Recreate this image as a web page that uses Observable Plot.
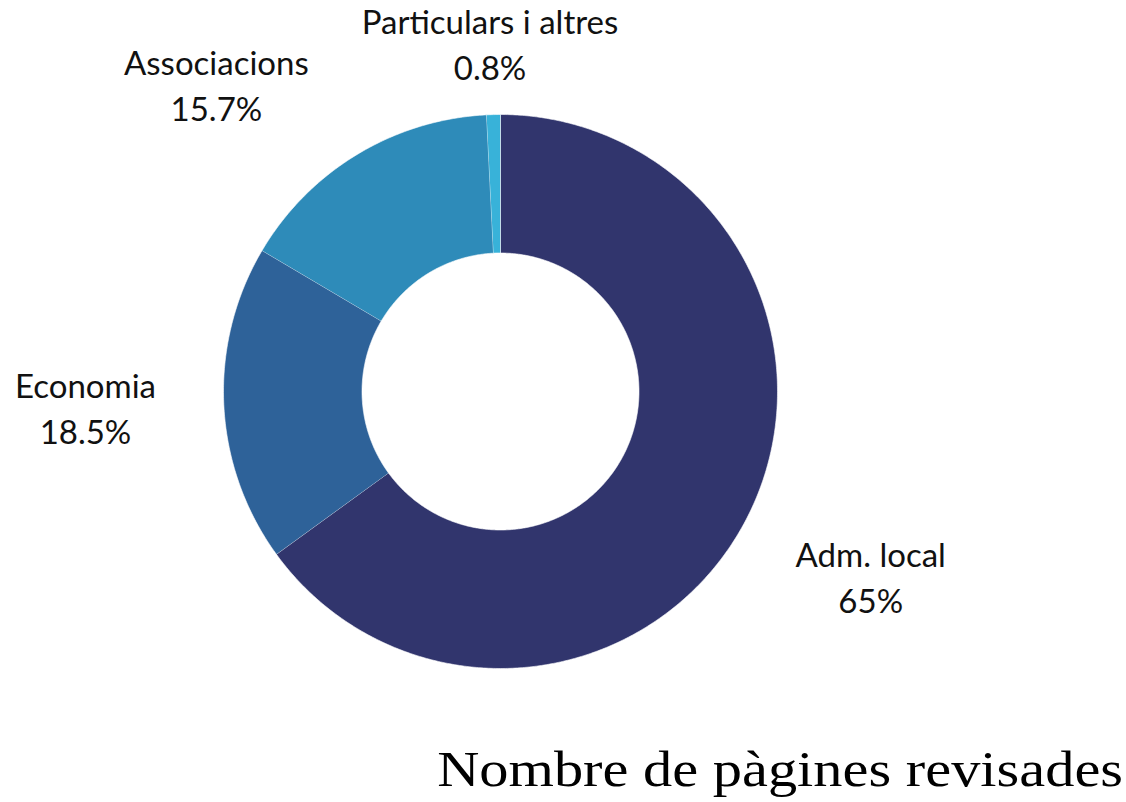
<!DOCTYPE html>
<html>
<head>
<meta charset="utf-8">
<script src="https://cdn.jsdelivr.net/npm/d3@7"></script>
<script src="https://cdn.jsdelivr.net/npm/@observablehq/plot@0.6"></script>
<style>
  html, body { margin: 0; padding: 0; background: #fff; }
  #chart svg { display: block; }
  #title { width: 1126px; text-align: right; line-height: 48px; box-sizing: border-box; padding-right: 3px; }
  #title span { display: inline-block; font-family: "Liberation Serif", serif; font-size: 51px; color: #000; transform: scaleX(1.145); transform-origin: right center; }
</style>
</head>
<body>
<div id="chart"></div>
<div id="title"><span>Nombre de pàgines revisades</span></div>
<script>
const categories = ["Adm. local", "Economia", "Associacions", "Particulars i altres"];
const shares = [65, 18.5, 15.7, 0.8];
const colors = ["#31356d", "#2e6299", "#2e8bb9", "#38b2d9"];

const W = 1126, H = 745, CX = 500, CY = 391, R = 277;
const innerRatio = 0.5;
const labelRadius = 1.5;

// slice angles (clockwise from 12 o'clock)
const pie = d3.pie().sort(null).value(d => d.v)(categories.map((c, i) => ({c, v: shares[i]})));
const pts = [];
for (const s of pie) {
  const n = Math.max(4, Math.ceil((s.endAngle - s.startAngle) / (Math.PI / 360)));
  const outer = d3.range(n + 1).map(k => s.startAngle + (s.endAngle - s.startAngle) * k / n);
  for (const a of outer) pts.push({cat: s.data.c, x: Math.sin(a), y: Math.cos(a)});
  for (const a of outer.slice().reverse()) pts.push({cat: s.data.c, x: innerRatio * Math.sin(a), y: innerRatio * Math.cos(a)});
}

// labels: mid-angle, then simple overlap avoidance
const fontSize = 33, lineH = 46;
const ctx = document.createElement("canvas").getContext("2d");
ctx.font = `${fontSize}px Lato`;
const pxPerUnit = R;
const labels = pie.map((s, i) => {
  const txt = `${s.data.c}\n${s.data.v}%`;
  const w = Math.max(...txt.split("\n").map(t => ctx.measureText(t).width));
  return {cat: s.data.c, text: txt, ang: (s.startAngle + s.endAngle) / 2, w, h: 2 * lineH};
});
const yTopMax = (CY - 47) / R;
function place(l) {
  l.x = labelRadius * Math.sin(l.ang);
  l.y = Math.min(labelRadius * Math.cos(l.ang), yTopMax);
}
labels.forEach(place);
const pad = 48;
function overlaps(a, b) {
  return Math.abs(a.x - b.x) * pxPerUnit < (a.w + b.w) / 2 + pad &&
         Math.abs(a.y - b.y) * pxPerUnit < (a.h + b.h) / 2;
}
for (let i = labels.length - 2; i >= 0; i--) {
  const fixed = labels[labels.length - 1];
  let guard = 0;
  while (overlaps(labels[i], fixed) && guard++ < 90) {
    labels[i].ang -= Math.PI / 180;
    place(labels[i]);
  }
}

const chart = Plot.plot({
  width: W, height: H,
  margin: 0,
  x: {domain: [-1, 1], range: [CX - R, CX + R], axis: null},
  y: {domain: [-1, 1], range: [CY + R, CY - R], axis: null},
  color: {domain: categories, range: colors},
  style: {fontFamily: "Lato, sans-serif", background: "#fff"},
  marks: [
    Plot.line(pts, {x: "x", y: "y", z: "cat", fill: "cat", stroke: "#fff", strokeWidth: 0.6, curve: "linear"}),
    Plot.text(labels, {x: "x", y: "y", text: "text", fontSize, lineHeight: lineH / fontSize, fill: "#111", textAnchor: "middle", lineAnchor: "middle", dy: -5})
  ]
});
document.getElementById("chart").appendChild(chart);
</script>
</body>
</html>
